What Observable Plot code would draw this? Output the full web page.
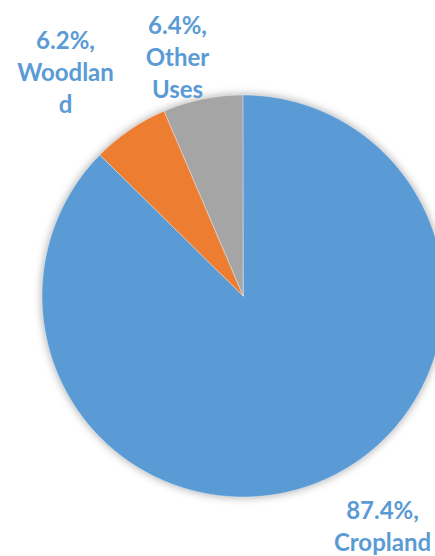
<!DOCTYPE html>
<html>
<head>
<meta charset="utf-8">
<script src="https://cdn.jsdelivr.net/npm/d3@7"></script>
<script src="https://cdn.jsdelivr.net/npm/@observablehq/plot@0.6"></script>
<style>
  html, body { margin: 0; padding: 0; background: #fff; }
  #chart svg { display: block; }
</style>
</head>
<body>
<div id="chart"></div>
<script>
// Data
const categories = ["Cropland", "Woodland", "Other Uses"];
const shares = [87.4, 6.2, 6.4];
const labels = ["87.4%,\nCropland", "6.2%,\nWoodlan\nd", "6.4%,\nOther\nUses"];
const colors = ["#5B9BD5", "#ED7D31", "#A5A5A5"];

// Layout (pixel-space scales)
const W = 435, H = 556;
const cx = 243, cy = 296, R = 201;
const labelPos = [[382, 496], [65, 26], [177, 11]];

const arcs = d3.pie().sort(null).value(d => d)(shares);
const pts = [];
arcs.forEach((a, i) => {
  const n = Math.max(4, Math.ceil((a.endAngle - a.startAngle) / 0.005));
  for (let k = 0; k <= n; k++) {
    const t = a.startAngle + (a.endAngle - a.startAngle) * k / n;
    pts.push({cat: categories[i], x1: cx + R * Math.sin(t), y1: cy - R * Math.cos(t), x2: cx, y2: cy});
  }
});
const labelData = categories.map((c, i) => ({cat: c, text: labels[i], x: labelPos[i][0], y: labelPos[i][1]}));

const plot = Plot.plot({
  width: W, height: H,
  margin: 0,
  x: {domain: [0, W], range: [0, W], axis: null},
  y: {domain: [0, H], range: [0, H], axis: null},
  color: {domain: categories, range: colors},
  style: {background: "#fff"},
  marks: [
    Plot.area(pts, {x1: "x1", y1: "y1", x2: "x2", y2: "y2", z: "cat", fill: "cat", stroke: "#fff", strokeWidth: 0.75, strokeOpacity: 0.5}),
    Plot.text(labelData, {x: "x", y: "y", text: "text", lineAnchor: "top", textAnchor: "middle",
      fill: "#5B9BD5", fontSize: 24, fontWeight: "bold", fontFamily: "Lato", lineHeight: 1.33})
  ]
});
const g = plot.querySelector('g[aria-label="area"]');
if (g) g.setAttribute("style", "filter: drop-shadow(0px 0px 4px rgba(0,0,0,0.35))");
document.getElementById("chart").appendChild(plot);
</script>
</body>
</html>
